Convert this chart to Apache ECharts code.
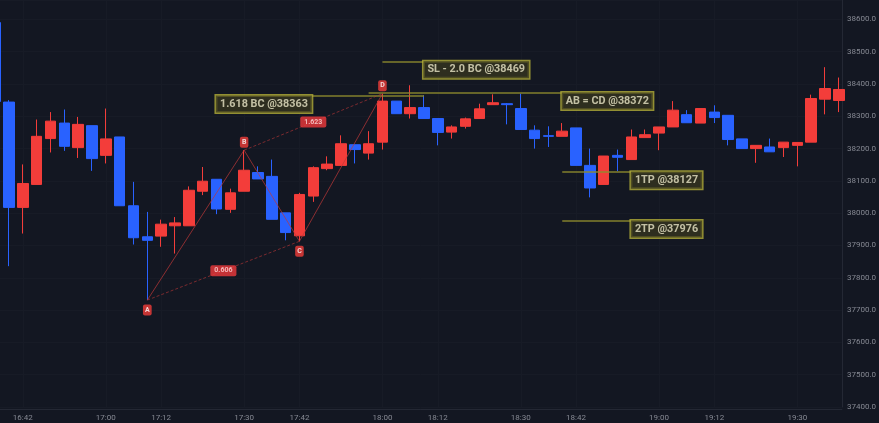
<!DOCTYPE html>
<html><head><meta charset="utf-8">
<script src="https://cdn.jsdelivr.net/npm/echarts@6/dist/echarts.min.js"></script>
<style>html,body{margin:0;padding:0;background:#131722;}#c{width:879px;height:423px;}</style>
</head><body><div id="c"></div>
<script>
// ---------- data ----------
const times = ['16:36','16:39','16:42','16:45','16:48','16:51','16:54','16:57',
 '17:00','17:03','17:06','17:09','17:12','17:15','17:18','17:21','17:24','17:27','17:30','17:33','17:36','17:39','17:42','17:45','17:48','17:51','17:54','17:57',
 '18:00','18:03','18:06','18:09','18:12','18:15','18:18','18:21','18:24','18:27','18:30','18:33','18:36','18:39','18:42','18:45','18:48','18:51','18:54','18:57',
 '19:00','19:03','19:06','19:09','19:12','19:15','19:18','19:21','19:24','19:27','19:30','19:33','19:36','19:39'];
const openV  = [38590,38344,38018,38089,38231,38279,38203,38271,38179,38236,38023,37927,37929,37961,37961,38068,38105,38012,38068,38126,38114,38001,37930,38053,38138,38148,38212,38186,38220,38347,38308,38327,38293,38251,38269,38293,38336,38339,38324,38257,38240,38238,38264,38148,38089,38179,38166,38234,38248,38267,38305,38279,38313,38303,38230,38200,38205,38203,38210,38220,38353,38349];
const closeV = [38346,38018,38092,38238,38285,38207,38275,38169,38230,38023,37924,37916,37966,37970,38071,38099,38013,38063,38133,38106,37981,37940,38058,38141,38152,38215,38197,38215,38347,38308,38327,38293,38250,38267,38292,38323,38342,38336,38259,38231,38238,38254,38148,38078,38177,38173,38236,38243,38267,38319,38280,38324,38296,38228,38200,38210,38190,38220,38219,38355,38386,38383];
const lowV   = [38330,37836,37937,38089,38188,38193,38171,38131,38154,38023,37903,37731,37896,37875,37961,38056,37997,38001,38068,38106,37981,37916,37913,38035,38133,38148,38154,38166,38197,38308,38293,38293,38210,38231,38262,38293,38336,38275,38259,38200,38205,38238,38148,38049,38089,38130,38166,38234,38195,38267,38280,38279,38279,38210,38200,38156,38190,38174,38145,38220,38306,38313];
const highV  = [38610,38350,38151,38290,38313,38321,38298,38271,38324,38236,38097,38004,37980,37988,38083,38143,38105,38076,38195,38145,38166,38001,38063,38145,38176,38241,38212,38254,38370,38347,38396,38365,38293,38272,38296,38339,38368,38341,38370,38272,38269,38279,38264,38200,38177,38197,38259,38259,38267,38347,38319,38324,38334,38303,38230,38210,38231,38220,38219,38367,38452,38420];

const timeTicks  = ['16:42','17:00','17:12','17:30','17:42','18:00','18:12','18:30','18:42','19:00','19:12','19:30'];
const priceTicks = [37400,37500,37600,37700,37800,37900,38000,38100,38200,38300,38400,38500,38600];

const patternNames  = ['A','B','C','D'];
const patternTimes  = ['17:09','17:30','17:42','18:00'];
const patternPrices = [37731,38195,37913,38370];
const ratioNames = ['0.606','1.623'];      // A–C and B–D legs
const ratioLegs  = [[0,2],[1,3]];

const levelNames  = ['SL - 2.0 BC @38469','1.618 BC @38363','AB = CD @38372','1TP @38127','2TP @37976'];
const levelPrices = [38469,38363,38372,38127,37976];
const levelFrom   = ['18:00','17:24','17:57','18:39','18:39'];
const levelTo     = ['18:09','18:09','18:39','18:54','18:54'];
const levelLabelAt= ['18:09','17:24','18:39','18:54','18:54'];

// ---------- styles ----------
const RED = '#f33d3a', BLUE = '#2962ff';
const FONT = 'Roboto, "Noto Sans", sans-serif';
const ix = t => times.indexOf(t);

const candles = times.map((t,i)=>[i, openV[i], closeV[i], lowV[i], highV[i]]);
const patPts = patternTimes.map((t,i)=>[ix(t), patternPrices[i]]);

const levelLines = levelNames.map((n,i)=>[
  {coord:[ix(levelFrom[i]), levelPrices[i]]},
  {coord:[ix(levelTo[i]), levelPrices[i]]}
]);

const chart = echarts.init(document.getElementById('c'), null, {renderer:'canvas'});
chart.setOption({
  backgroundColor:'#131722',
  animation:false,
  grid:{left:0, right:36, top:0, bottom:16},
  xAxis:{
    type:'value', min:0.35, max:61.22, offset:2,
    axisLine:{show:true, lineStyle:{color:'#242834'}},
    axisTick:{show:false, customValues: timeTicks.map(ix)},
    axisLabel:{customValues: timeTicks.map(ix), formatter:v=>times[Math.round(v)], color:'#868993', fontSize:8, margin:5, fontFamily:FONT},
    splitLine:{show:true, lineStyle:{color:'#171b26', width:1}}
  },
  yAxis:{
    type:'value', position:'right', min:priceTicks[0], max:38660, interval:100, scale:true,
    axisLine:{show:true, lineStyle:{color:'#242834'}},
    axisTick:{show:false},
    axisLabel:{formatter:v=>v.toFixed(1), color:'#868993', fontSize:8, margin:5, showMaxLabel:false, fontFamily:FONT},
    splitLine:{show:true, lineStyle:{color:'#171b26', width:1}}
  },
  series:[
    {
      type:'candlestick', data:candles, barWidth:11, z:3,
      itemStyle:{color:RED, color0:BLUE, borderColor:RED, borderColor0:BLUE, borderWidth:1}
    },
    // level lines
    {
      type:'line', data:[], z:4,
      markLine:{silent:true, symbol:'none', label:{show:false},
        lineStyle:{color:'#8f8c2c', width:1.5, type:'solid', opacity:0.9},
        data:levelLines}
    },
    // pattern solid legs
    {
      type:'line', data:patPts, z:5, symbol:'none',
      lineStyle:{color:'rgba(190,55,55,0.7)', width:1}
    },
    // pattern dashed legs
    ...ratioLegs.map(leg=>({
      type:'line', data:[patPts[leg[0]], patPts[leg[1]]], z:5, symbol:'none',
      lineStyle:{color:'rgba(190,55,55,0.6)', width:1, type:[3,2]}
    })),
    // ratio labels
    {
      type:'scatter', z:6, symbol:'circle', symbolSize:1, itemStyle:{color:'transparent'},
      data: ratioLegs.map((leg,i)=>({
        value:[(patPts[leg[0]][0]+patPts[leg[1]][0])/2, (patPts[leg[0]][1]+patPts[leg[1]][1])/2],
        name: ratioNames[i]})),
      label:{show:true, position:'inside', formatter:p=>p.name, color:'#ffd9d9', fontSize:7, fontWeight:'bold',
        backgroundColor:'#f0393c', padding:[2,4], borderRadius:2, fontFamily:FONT}
    },
    // pattern point labels
    {
      type:'scatter', z:6, symbol:'circle', symbolSize:1, itemStyle:{color:'transparent'},
      data: patPts.map((p,i)=>({value:p, name:patternNames[i],
        label:{position:(i%2===0)?'bottom':'top', distance:(i%2===0)?4:2}})),
      label:{show:true, formatter:p=>p.name, color:'#fff', fontSize:7, fontWeight:'bold',
        backgroundColor:'#f33d3a', padding:[2,2], borderRadius:2, fontFamily:FONT}
    },
    // level label boxes
    {
      type:'scatter', z:7, symbol:'circle', symbolSize:1, itemStyle:{color:'transparent'},
      data: levelNames.map((n,i)=>({value:[ix(levelLabelAt[i]), levelPrices[i]], name:n})),
      label:{show:true, position:[0,0], formatter:p=>p.name, color:'#e8e5c6', fontSize:10.8, fontWeight:'bold',
        lineHeight:13, backgroundColor:'rgba(56,55,30,0.94)', borderColor:'#b3ae38', borderWidth:1.5,
        padding:[2,4], fontFamily:FONT}
    }
  ]
});
</script></body></html>
